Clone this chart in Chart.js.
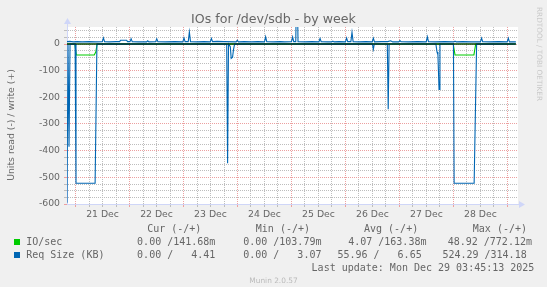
<!DOCTYPE html>
<html>
<head>
<meta charset="utf-8">
<script src="https://cdn.jsdelivr.net/npm/chart.js@4.4.1/dist/chart.umd.min.js"></script>
<style>
  html, body { margin: 0; padding: 0; background: #f0f0f0; }
  #wrap { position: relative; width: 547px; height: 287px; overflow: hidden;
          font-family: "DejaVu Sans", sans-serif; color: #666; }
  #wrap canvas { position: absolute; left: 0; top: 0; }
  .t { position: absolute; white-space: pre; line-height: 1; }
  .mono { font-family: "DejaVu Sans Mono", monospace; font-size: 10px; }
  .box { position: absolute; width: 6px; height: 6px; }
</style>
</head>
<body>
<div id="wrap">
  <canvas id="chartIO" width="547" height="287"></canvas>

  <div class="t" style="left:0;width:547px;text-align:center;top:13.3px;font-size:12.6px;">IOs for /dev/sdb - by week</div>
  <div class="t" style="left:-69px;top:119px;width:160px;height:12px;line-height:12px;text-align:center;font-size:9.3px;transform:rotate(-90deg);">Units read (-) / write (+)</div>
  <div class="t" style="left:479px;top:48.5px;width:120px;height:10px;line-height:10px;text-align:center;font-size:7.3px;color:#c8c8c8;transform:rotate(90deg);">RRDTOOL / TOBI OETIKER</div>

  <!-- legend -->
  <div class="t mono" style="left:147.2px;top:223.8px;">Cur (-/+)</div>
  <div class="t mono" style="left:255.8px;top:223.8px;">Min (-/+)</div>
  <div class="t mono" style="left:364px;top:223.8px;">Avg (-/+)</div>
  <div class="t mono" style="left:472.8px;top:223.8px;">Max (-/+)</div>

  <div class="box" style="left:14px;top:239.4px;background:#00cc00;"></div>
  <div class="t mono" style="left:26.2px;top:236.9px;">IO/sec</div>
  <div class="t mono" style="left:137.1px;top:236.9px;">0.00 /141.68m</div>
  <div class="t mono" style="left:243.2px;top:236.9px;">0.00 /103.79m</div>
  <div class="t mono" style="left:348.2px;top:236.9px;">4.07 /163.38m</div>
  <div class="t mono" style="left:447.7px;top:236.9px;">48.92 /772.12m</div>

  <div class="box" style="left:14px;top:252.3px;background:#0066b3;"></div>
  <div class="t mono" style="left:26.2px;top:249.8px;">Req Size (KB)</div>
  <div class="t mono" style="left:137.1px;top:249.8px;">0.00 /   4.41</div>
  <div class="t mono" style="left:243.2px;top:249.8px;">0.00 /   3.07</div>
  <div class="t mono" style="left:337.4px;top:249.8px;">55.96 /   6.65</div>
  <div class="t mono" style="left:442.4px;top:249.8px;">524.29 /314.18</div>

  <div class="t mono" style="left:311.6px;top:262.5px;">Last update: Mon Dec 29 03:45:13 2025</div>
  <div class="t" style="left:0;width:547px;text-align:center;top:276.7px;font-size:7.4px;color:#bbb;">Munin 2.0.57</div>
</div>

<script>
// time axis: hours counted from 21 Dec 00:00
const dayLabels = ['21 Dec', '22 Dec', '23 Dec', '24 Dec', '25 Dec', '26 Dec', '27 Dec', '28 Dec'];
const xMin = -3.8, xMax = 196.7, lastHour = 195.75;
const yMin = -600, yMax = 63.75;

// Req Size (KB), write (+)
const reqWriteHours = [-3.8, -2.5, -1, 0.7, 3, 6, 9, 11.9, 12.4, 12.9, 15, 18, 19.6, 20.0, 22.7, 23.1,
  24.2, 24.7, 25.2, 28, 31.6, 32.1, 32.6, 35.6, 36.1, 36.6, 40, 44, 47.7, 48.2, 48.7, 50.1, 50.6, 51.1,
  54, 57, 59.9, 60.4, 60.9, 63, 66, 71.4, 71.9, 72.4, 75, 78, 81, 84, 84.5, 85, 88, 91, 93, 96, 96.5, 97,
  97.9, 98.4, 98.9, 102, 105, 108.2, 108.7, 109.2, 112, 113.9, 114.4, 114.9, 117, 120, 120.5, 121,
  122.4, 122.9, 123.4, 126, 129, 131.9, 132.4, 132.9, 136, 138.8, 140.1, 141, 143.7, 144.2, 144.7,
  148, 152, 155.9, 156.4, 156.9, 160, 164, 168.2, 168.7, 169.2, 172, 176, 180, 180.5, 181, 184, 188,
  191.9, 192.4, 192.9, 195.75];
const reqWriteVals = [9, 10, 8, 9, 8, 9, 8, 9, 23, 9, 8, 9, 9, 14, 14, 9,
  9, 20, 9, 8, 8, 12, 8, 9, 20, 9, 8, 9, 8, 23, 9, 9, 45, 9,
  8, 9, 8, 21, 9, 10, 9, 8, 14, 8, 9, 8, 9, 8, 27, 9, 8, 9, 8, 9, 27, 9,
  9, 314, 9, 8, 9, 8, 21, 9, 8, 8, 11, 8, 9, 8, 23, 9,
  9, 44, 9, 8, 9, 8, 22, 8, 9, 9, 12, 8, 8, 13, 9,
  8, 9, 8, 27, 9, 8, 9, 8, 11, 8, 9, 8, 8, 22, 9, 8, 9,
  8, 22, 8, 8];

// Req Size (KB), read (-)
const reqReadHours = [-3.8, -3.35, -2.9, -2.45, -0.2, 0.2, 8.7, 9.5, 20, 40, 55, 67.2, 67.6, 68.0, 68.8,
  69.2, 69.8, 70.2, 70.7, 90, 110, 132.0, 132.4, 132.8, 138.6, 139.0, 139.4, 160.2, 160.7, 161.1,
  161.6, 162.0, 168.0, 168.3, 177.2, 178.3, 185, 195.75];
const reqReadVals = [-595, -0.3, -385, -0.3, -0.2, -522, -522, -0.2, -0.3, -0.2, -0.3, -0.2, -447, -0.3, -10,
  -54, -50, -22, -0.3, -0.2, -0.3, -0.2, -20, -0.2, -0.2, -245, -0.2, -0.2, -30, -40,
  -170, -0.2, -0.2, -522, -522, -0.2, -0.3, -0.2];

// IO/sec, read (-) and write (+)
const ioReadHours = [-3.8, -0.36, 0.36, 8.3, 9.0, 9.6, 60, 120, 167.9, 168.7, 177.1, 177.9, 195.75];
const ioReadVals = [-0.1, -0.1, -41, -41, -30, -0.1, -0.1, -0.1, -0.1, -41, -41, -0.1, -0.1];
const ioWriteHours = [-3.8, 195.75];
const ioWriteVals = [0.2, 0.14];

const pts = (hs, vs) => hs.map((h, i) => ({ x: h, y: vs[i] }));

const majorGrid = '#eca0a0';
const minorGrid = '#bdbdbd';

const plotBackground = {
  id: 'plotBackground',
  beforeDraw(chart) {
    const { ctx, chartArea: a } = chart;
    ctx.save();
    ctx.fillStyle = '#ffffff';
    ctx.fillRect(a.left, a.top, a.right - a.left, a.bottom - a.top);
    ctx.restore();
  }
};

// rrdtool style arrows at the end of both axes
const axisArrows = {
  id: 'axisArrows',
  afterDraw(chart) {
    const { ctx, chartArea: a } = chart;
    const x0 = Math.round(a.left) + 0.5, y0 = Math.round(a.bottom) + 0.5;
    ctx.save();
    ctx.strokeStyle = ctx.fillStyle = '#cfd6f8';
    ctx.lineWidth = 1;
    ctx.beginPath();
    ctx.moveTo(x0, a.top); ctx.lineTo(x0, a.top - 3);
    ctx.moveTo(a.right, y0); ctx.lineTo(a.right + 2, y0);
    ctx.stroke();
    ctx.beginPath();
    ctx.moveTo(x0 - 3.5, a.top - 3); ctx.lineTo(x0 + 3.5, a.top - 3); ctx.lineTo(x0, a.top - 9);
    ctx.closePath(); ctx.fill();
    ctx.beginPath();
    ctx.moveTo(a.right + 1, y0 - 3.5); ctx.lineTo(a.right + 1, y0 + 3.5); ctx.lineTo(a.right + 7, y0);
    ctx.closePath(); ctx.fill();
    ctx.restore();
  }
};

const xTicks = [];
for (let h = 0; h <= xMax; h += 6) xTicks.push({ value: h });
const yTicks = [];
for (let v = yMin; v <= yMax; v += 25) yTicks.push({ value: v });

const isMajorX = v => Math.round(v) % 24 === 0;
const isMajorY = v => Math.round(v) % 100 === 0;

const line = (data, color, width) => ({
  data, borderColor: color, borderWidth: width, pointRadius: 0, tension: 0, fill: false
});

new Chart(document.getElementById('chartIO'), {
  type: 'line',
  data: {
    datasets: [
      line([{ x: xMin, y: 0 }, { x: lastHour, y: 0 }], '#000000', 1.2),
      line(pts(reqWriteHours, reqWriteVals), '#0066b3', 1.1),
      line(pts(reqReadHours, reqReadVals), '#0066b3', 1.1),
      line(pts(ioWriteHours, ioWriteVals), '#00cc00', 1.1),
      line(pts(ioReadHours, ioReadVals), '#00cc00', 1.1)
    ]
  },
  options: {
    responsive: false,
    animation: false,
    devicePixelRatio: 1,
    layout: { padding: { left: 0, top: 27, right: 29, bottom: 0 } },
    plugins: { legend: { display: false }, tooltip: { enabled: false } },
    font: { family: 'DejaVu Sans' },
    scales: {
      x: {
        type: 'linear',
        min: xMin,
        max: xMax,
        afterBuildTicks: s => { s.ticks = xTicks.map(t => ({ ...t })); },
        afterFit: s => { s.height = 83; },
        ticks: {
          autoSkip: false,
          maxRotation: 0,
          padding: 2,
          color: '#666',
          font: { family: 'DejaVu Sans', size: 9.3 },
          callback: v => (Math.round(v) % 24 === 12 ? dayLabels[(Math.round(v) - 12) / 24] : '')
        },
        grid: {
          color: c => (c.tick && isMajorX(c.tick.value) ? majorGrid : minorGrid),
          lineWidth: 1,
          tickLength: 3
        },
        border: { display: true, color: '#cfd6f8', width: 1, dash: [1, 1] }
      },
      y: {
        type: 'linear',
        min: yMin,
        max: yMax,
        afterBuildTicks: s => { s.ticks = yTicks.map(t => ({ ...t })); },
        afterFit: s => { s.width = 67; },
        ticks: {
          autoSkip: false,
          padding: 4,
          color: '#666',
          font: { family: 'DejaVu Sans', size: 9.3 },
          callback: v => (isMajorY(v) ? String(v) : '')
        },
        grid: {
          color: c => (c.tick && isMajorY(c.tick.value) ? majorGrid : minorGrid),
          lineWidth: 1,
          tickLength: 3
        },
        border: { display: true, color: '#cfd6f8', width: 1, dash: [1, 1] }
      }
    }
  },
  plugins: [plotBackground, axisArrows]
});
</script>
</body>
</html>
